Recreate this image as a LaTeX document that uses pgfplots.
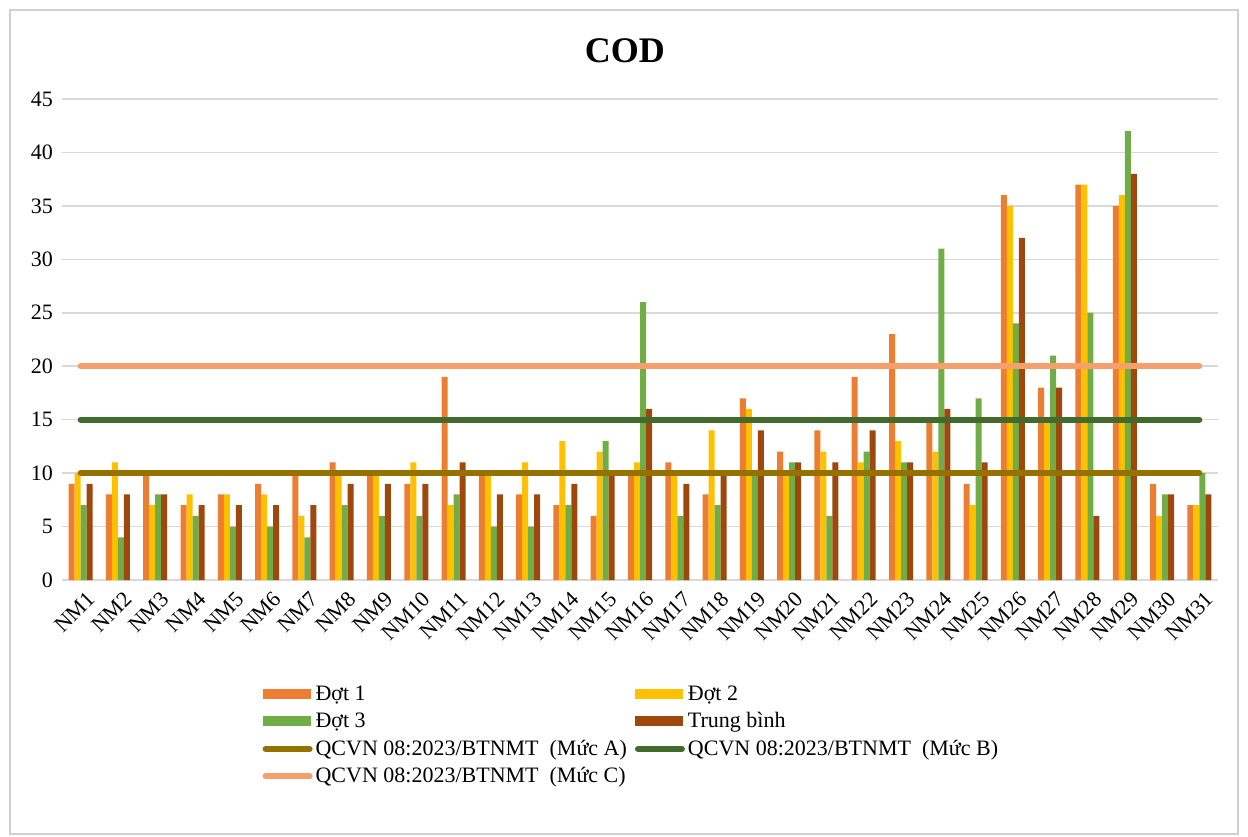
\documentclass[border=0pt]{standalone}
\usepackage{fontspec}
\setmainfont{Liberation Serif}
\usepackage{pgfplots}
\pgfplotsset{compat=1.18}
\usepackage{pgfplotstable}
\definecolor{cDa}{HTML}{ED7D31}
\definecolor{cDb}{HTML}{FFC000}
\definecolor{cDc}{HTML}{70AD47}
\definecolor{cTB}{HTML}{9E480E}
\definecolor{cLA}{HTML}{957200}
\definecolor{cLB}{HTML}{426A2C}
\definecolor{cLC}{HTML}{F5A06C}
\definecolor{cGrid}{HTML}{D9D9D9}
\definecolor{cBorder}{HTML}{D0D0D0}

\pgfplotstableread{
x d1 d2 d3 tb
0 9 10 7 9
1 8 11 4 8
2 10 7 8 8
3 7 8 6 7
4 8 8 5 7
5 9 8 5 7
6 10 6 4 7
7 11 10 7 9
8 10 10 6 9
9 9 11 6 9
10 19 7 8 11
11 10 10 5 8
12 8 11 5 8
13 7 13 7 9
14 6 12 13 10
15 10 11 26 16
16 11 10 6 9
17 8 14 7 10
18 17 16 10 14
19 12 10 11 11
20 14 12 6 11
21 19 11 12 14
22 23 13 11 11
23 15 12 31 16
24 9 7 17 11
25 36 35 24 32
26 18 15 21 18
27 37 37 25 6
28 35 36 42 38
29 9 6 8 8
30 7 7 10 8
}\data

\pgfplotsset{
  barleg/.style={legend image code/.code={\fill[draw=none] (0pt,-2.5pt) rectangle (24pt,2.5pt);}},
  lineleg/.style={legend image code/.code={\draw[line cap=round] (1.5pt,0pt) -- (23.5pt,0pt);}},
}

\begin{document}
\begin{tikzpicture}
\begin{axis}[
  scale only axis,
  width=578pt, height=240.5pt,
  xmin=-0.5, xmax=30.5, ymin=0, ymax=45,
  ytick={0,5,...,45},
  xtick={0,...,30},
  xticklabels={NM1,NM2,NM3,NM4,NM5,NM6,NM7,NM8,NM9,NM10,NM11,NM12,NM13,NM14,NM15,NM16,NM17,NM18,NM19,NM20,NM21,NM22,NM23,NM24,NM25,NM26,NM27,NM28,NM29,NM30,NM31},
  axis line style={draw=none},
  major tick length=0pt,
  ymajorgrids,
  grid style={draw=cGrid, line width=0.8pt},
  /pgf/number format/assume math mode=true,
  tick label style={font=\fontsize{11}{13}\selectfont},
  x tick label style={xshift=2.5pt, yshift=-3.5pt, rotate=45, anchor=north east, inner sep=1pt},
  y tick label style={xshift=-1pt},
  title={COD},
  title style={at={(0.487,1.075)}, anchor=center, font=\bfseries\fontsize{18}{20}\selectfont},
  legend columns=2,
  legend cell align=left,
  legend style={at={(0.168,-0.204)}, anchor=north west, draw=none, fill=none,
    font=\fontsize{11}{13}\selectfont,
    row sep=1.6pt,
    /tikz/every even column/.append style={column sep=2.5pt},
    /tikz/every odd column/.append style={column sep=0pt},
    nodes={inner sep=1.5pt}},
]
\addplot[ybar, bar width=3pt, bar shift=-4.5pt, fill=cDa, draw=none, barleg] table[x=x,y=d1]{\data};
\addlegendentry{Đợt 1}
\addplot[ybar, bar width=3pt, bar shift=-1.5pt, fill=cDb, draw=none, barleg] table[x=x,y=d2]{\data};
\addlegendentry{Đợt 2}
\addplot[ybar, bar width=3pt, bar shift=1.5pt, fill=cDc, draw=none, barleg] table[x=x,y=d3]{\data};
\addlegendentry{Đợt 3}
\addplot[ybar, bar width=3pt, bar shift=4.5pt, fill=cTB, draw=none, barleg] table[x=x,y=tb]{\data};
\addlegendentry{Trung bình}
\addplot[cLA, line width=3pt, line cap=round, mark=none, lineleg] coordinates {(0,10) (30,10)};
\addlegendentry{QCVN 08:2023/BTNMT~ (Mức A)}
\addplot[cLB, line width=3pt, line cap=round, mark=none, lineleg] coordinates {(0,15) (30,15)};
\addlegendentry{QCVN 08:2023/BTNMT~ (Mức B)}
\addplot[cLC, line width=3pt, line cap=round, mark=none, lineleg] coordinates {(0,20) (30,20)};
\addlegendentry{QCVN 08:2023/BTNMT~ (Mức C)}
\end{axis}
\draw[cBorder, line width=0.8pt] (-26pt,285pt) rectangle (588pt,-127pt);
\pgfresetboundingbox
\useasboundingbox (-31pt,-128pt) rectangle (593pt,290pt);
\end{tikzpicture}
\end{document}
